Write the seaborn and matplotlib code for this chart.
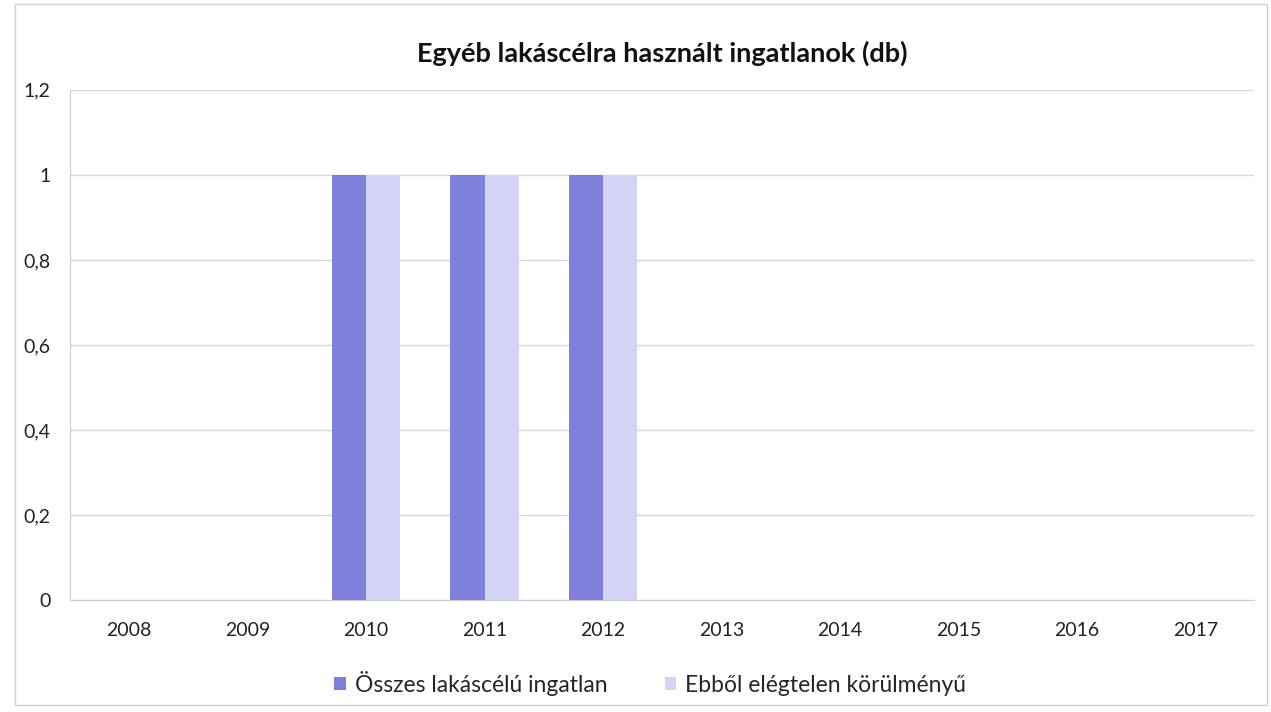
import pandas as pd
import matplotlib.pyplot as plt
import seaborn as sns
from matplotlib.patches import Rectangle

years = ["2008", "2009", "2010", "2011", "2012", "2013", "2014", "2015", "2016", "2017"]
osszes = [0, 0, 1, 1, 1, 0, 0, 0, 0, 0]
elegtelen = [0, 0, 1, 1, 1, 0, 0, 0, 0, 0]
series_names = ["Összes lakáscélú ingatlan", "Ebből elégtelen körülményű"]
y_ticks = [0, 0.2, 0.4, 0.6, 0.8, 1, 1.2]
y_labels = ["0", "0,2", "0,4", "0,6", "0,8", "1", "1,2"]

# long format for seaborn
data = pd.DataFrame({
    "year": years * 2,
    "value": osszes + elegtelen,
    "series": [series_names[0]] * len(years) + [series_names[1]] * len(years),
})

sns.set_style("white")
plt.rcParams['font.family'] = ['Lato', 'DejaVu Sans']

fig = plt.figure(figsize=(12.71, 7.12), dpi=100)
ax = fig.add_axes([0.055, 0.157, 0.932, 0.717])

sns.barplot(
    data=data, x="year", y="value", hue="series",
    palette=["#7f7fdc", "#d3d3f6"], width=0.58, saturation=1,
    linewidth=0, ax=ax, zorder=3,
)

ax.set_ylim(0, 1.2)
ax.set_yticks(y_ticks)
ax.set_yticklabels(y_labels)
ax.yaxis.grid(True, color="#d4d8dc", linewidth=1, zorder=0)
ax.set_xlabel("")
ax.set_ylabel("")
for side in ["top", "right"]:
    ax.spines[side].set_visible(False)
for side in ["left", "bottom"]:
    ax.spines[side].set_color("#c8cccf")
ax.tick_params(axis="both", labelsize=14, colors="#222222", length=0, pad=14)
ax.tick_params(axis="x", pad=16)

ax.set_title("Egyéb lakáscélra használt ingatlanok (db)", fontsize=19.5,
             fontweight="bold", color="#111111", pad=20)

ax.legend(loc="upper center", bbox_to_anchor=(0.49, -0.098), ncol=2,
          frameon=False, fontsize=16.5, handlelength=0.5, handleheight=0.5,
          columnspacing=2.5, handletextpad=0.4)

fig.patches.append(Rectangle((0.012, 0.01), 0.985, 0.985, transform=fig.transFigure,
                             fill=False, edgecolor="#d0d0d0", linewidth=1))

fig.savefig("out.png", dpi=100)
